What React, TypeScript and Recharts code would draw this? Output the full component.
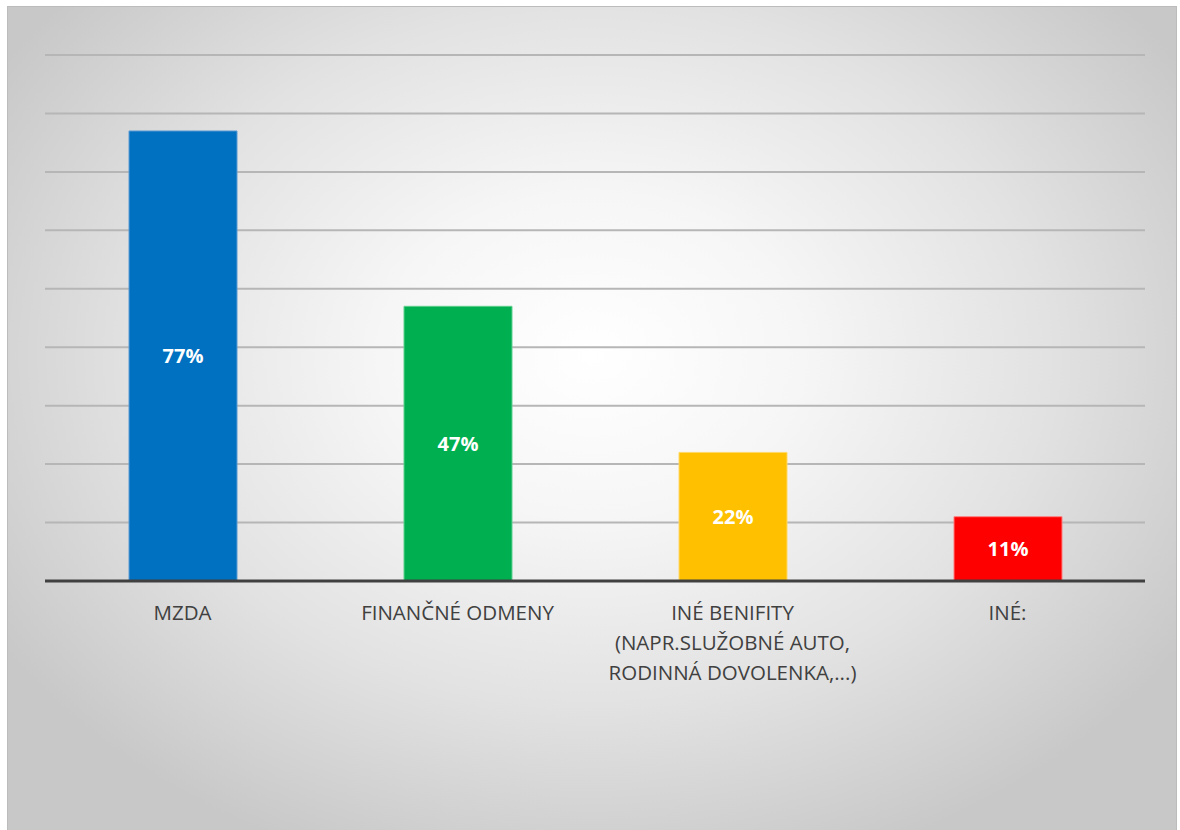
import React from "react";
import { BarChart, Bar, XAxis, YAxis, CartesianGrid, Cell, LabelList } from "recharts";

const CATEGORIES = [
  "MZDA",
  "FINANČNÉ ODMENY",
  "INÉ BENIFITY\n(NAPR.SLUŽOBNÉ AUTO,\nRODINNÁ DOVOLENKA,...)",
  "INÉ:",
];
const VALUES = [77, 47, 22, 11];
const BAR_COLORS = ["#0070C0", "#00B050", "#FFC000", "#FF0000"];
const BAR_STROKES = ["#5b9bd5", "#5fd08f", "#ffd966", "#ff7f7f"];
const Y_TICKS = [0, 10, 20, 30, 40, 50, 60, 70, 80, 90];

const data = CATEGORIES.map((name, i) => ({ name, value: VALUES[i] }));

const FONT = "'Open Sans', 'DejaVu Sans', sans-serif";

function CategoryTick(props: any) {
  const { x, y, payload } = props;
  const lines = String(payload.value).split("\n");
  return (
    <g transform={`translate(${x},${y})`}>
      {lines.map((line, i) => (
        <text
          key={i}
          x={0}
          y={31 + i * 30}
          textAnchor="middle"
          fill="#404040"
          fontSize={20.5}
          fontFamily={FONT}
        >
          {line}
        </text>
      ))}
    </g>
  );
}

export default function App() {
  return (
    <div
      style={{
        position: "absolute",
        left: 7,
        top: 6,
        width: 1168,
        height: 830,
        border: "1px solid #bcbcbc",
        background:
          "radial-gradient(ellipse 60% 65% at 50% 42%, #ffffff 0%, #f6f6f6 30%, #e2e2e2 65%, #c8c8c8 100%)",
        overflow: "hidden",
      }}
    >
      <style>{"body{margin:0}"}</style>
      <BarChart
        width={1168}
        height={760}
        data={data}
        margin={{ top: 48, right: 31, left: 37, bottom: 86 }}
      >
        <CartesianGrid vertical={false} stroke="#b6b6b6" strokeWidth={2} />
        <YAxis hide domain={[0, 90]} ticks={Y_TICKS} type="number" />
        <XAxis
          dataKey="name"
          height={100}
          interval={0}
          tickLine={false}
          axisLine={{ stroke: "#404040", strokeWidth: 3 }}
          tick={<CategoryTick />}
        />
        <Bar dataKey="value" barSize={108} isAnimationActive={false}>
          {data.map((_, i) => (
            <Cell key={i} fill={BAR_COLORS[i]} stroke={BAR_STROKES[i]} strokeWidth={1} />
          ))}
          <LabelList
            dataKey="value"
            position="center"
            formatter={(v: any) => `${v}%`}
            fill="#ffffff"
            fontSize={20}
            fontWeight="bold"
            fontFamily={FONT}
          />
        </Bar>
      </BarChart>
    </div>
  );
}
